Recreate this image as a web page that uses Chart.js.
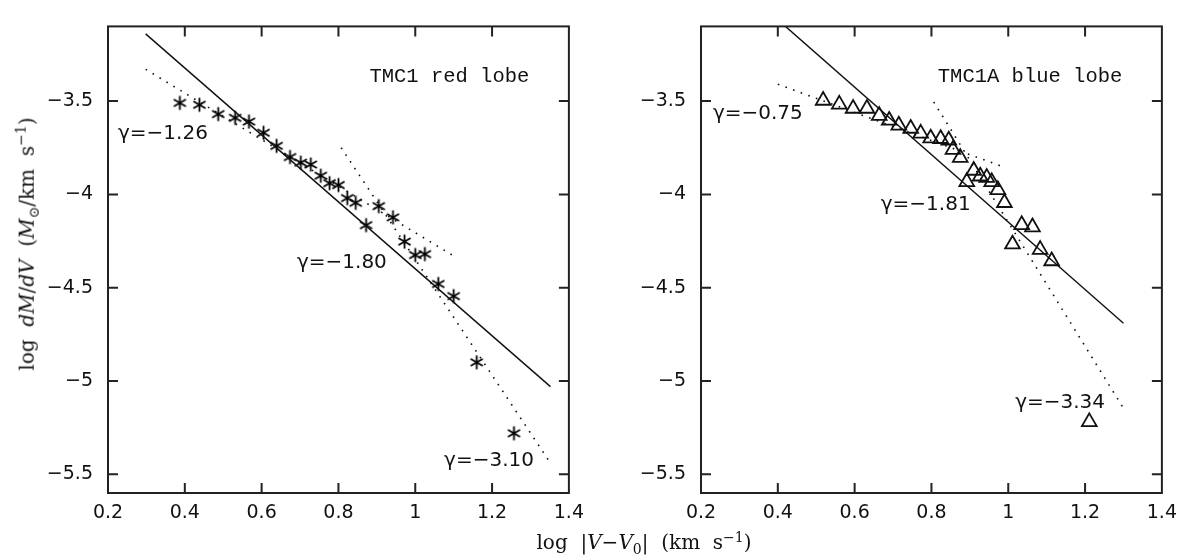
<!DOCTYPE html>
<html>
<head>
<meta charset="utf-8">
<script src="https://cdn.jsdelivr.net/npm/chart.js@4.4.0/dist/chart.umd.min.js"></script>
<style>
    body { margin: 0; background: #fff; width: 1186px; height: 560px; position: relative; overflow: hidden; }
    canvas { position: absolute; top: 0; }
    #leftChart { left: 0; }
    #rightChart { left: 593px; }
    .axisTitle { position: absolute; font-family: "DejaVu Serif", serif; font-size: 20px; color: #111; white-space: nowrap; line-height: 1; }
    .axisTitle sup, .axisTitle sub { font-size: 14px; }
    #yTitle { left: 27px; top: 244px; transform: translate(-50%, -50%) rotate(-90deg); }
    #xTitle { left: 644px; top: 543px; transform: translate(-50%, -50%); }
</style>
</head>
<body>
<canvas id="leftChart" width="593" height="560"></canvas>
<canvas id="rightChart" width="593" height="560"></canvas>
<div class="axisTitle" id="yTitle">log&nbsp; <i>dM</i>/<i>dV</i>&nbsp; (<i>M</i><sub>⊙</sub>/km&nbsp; s<sup>−1</sup>)</div>
<div class="axisTitle" id="xTitle">log&nbsp; |<i>V</i>−<i>V</i><sub>0</sub>|&nbsp; (km&nbsp; s<sup>−1</sup>)</div>
<script>
// ---------------------------------------------
// DATA
// ---------------------------------------------
const xTicks = [0.2, 0.4, 0.6, 0.8, 1.0, 1.2, 1.4];
const yTicks = [-5.5, -5, -4.5, -4, -3.5];

// TMC1 red lobe
const redX = [0.387, 0.438, 0.487, 0.531, 0.567, 0.605, 0.639, 0.674, 0.702, 0.728, 0.754, 0.777, 0.800,
              0.823, 0.845, 0.872, 0.905, 0.942, 0.972, 1.000, 1.025, 1.060, 1.100, 1.160, 1.257];
const redY = [-3.51, -3.52, -3.57, -3.59, -3.61, -3.67, -3.74, -3.80, -3.83, -3.84, -3.90, -3.94, -3.95,
              -4.02, -4.045, -4.165, -4.063, -4.123, -4.253, -4.325, -4.32, -4.48, -4.545, -4.90, -5.28];
const redFitX = [0.298, 1.352];
const redFitY = [-3.14, -5.03];
const redLowX = [0.298, 1.10];   // gamma = -1.26
const redLowY = [-3.33, -4.33];
const redHighX = [0.807, 1.352]; // gamma = -3.10
const redHighY = [-3.75, -5.44];

// TMC1A blue lobe
const blueX = [0.518, 0.560, 0.596, 0.632, 0.664, 0.690, 0.715, 0.746, 0.772, 0.798, 0.824, 0.845,
               0.856, 0.875, 0.892, 0.910, 0.927, 0.944, 0.957, 0.973, 0.990, 1.011, 1.035, 1.063,
               1.083, 1.113, 1.211];
const blueY = [-3.497, -3.518, -3.54, -3.54, -3.578, -3.604, -3.63, -3.647, -3.673, -3.699, -3.702, -3.71,
               -3.76, -3.803, -3.933, -3.872, -3.903, -3.91, -3.933, -3.976, -4.045, -4.267, -4.163, -4.175,
               -4.296, -4.357, -5.219];
const blueFitX = [0.42, 1.30];
const blueFitY = [-3.10, -4.69];
const blueLowX = [0.40, 0.99];   // gamma = -0.75
const blueLowY = [-3.41, -3.855];
const blueHighX = [0.806, 1.297]; // gamma = -3.34
const blueHighY = [-3.505, -5.136];

// Annotations
const redGammaText = ["γ=−1.26", "γ=−1.80", "γ=−3.10"];
const redGammaX = [0.226, 0.692, 1.075];
const redGammaY = [-3.673, -4.366, -5.426];
const blueGammaText = ["γ=−0.75", "γ=−1.81", "γ=−3.34"];
const blueGammaX = [0.231, 0.668, 1.018];
const blueGammaY = [-3.57, -4.054, -5.118];

// ---------------------------------------------
// HELPERS
// ---------------------------------------------
const INK = "#111";

function toPoints(xs, ys) {
    return xs.map((x, i) => ({ x: x, y: ys[i] }));
}

// six-armed asterisk marker
function makeAsterisk() {
    const c = document.createElement("canvas");
    c.width = 17; c.height = 17;
    const g = c.getContext("2d");
    const cx = 8.5, cy = 8.5, r = 7;
    g.strokeStyle = "#000";
    g.lineWidth = 1.8;
    g.beginPath();
    for (const deg of [90, 30, -30]) {
        const a = deg * Math.PI / 180;
        g.moveTo(cx - r * Math.cos(a), cy - r * Math.sin(a));
        g.lineTo(cx + r * Math.cos(a), cy + r * Math.sin(a));
    }
    g.stroke();
    return c;
}

function lineSet(xs, ys, dotted) {
    return {
        data: toPoints(xs, ys),
        showLine: true,
        pointRadius: 0,
        borderColor: INK,
        borderWidth: dotted ? 1.6 : 1.4,
        borderDash: dotted ? [1.6, 6.5] : [],
        fill: false
    };
}

// frame with inward ticks on all four sides + text labels
const frameAndLabels = {
    id: "frameAndLabels",
    afterDatasetsDraw(chart, args, opts) {
        const { ctx, chartArea: a, scales: { x, y } } = chart;
        ctx.save();
        ctx.strokeStyle = "#222";
        ctx.lineWidth = 2;
        ctx.strokeRect(a.left, a.top, a.right - a.left, a.bottom - a.top);

        const len = 10;
        ctx.beginPath();
        xTicks.forEach(v => {
            const px = x.getPixelForValue(v);
            if (px <= a.left + 1 || px >= a.right - 1) return;
            ctx.moveTo(px, a.bottom); ctx.lineTo(px, a.bottom - len);
            ctx.moveTo(px, a.top); ctx.lineTo(px, a.top + len);
        });
        yTicks.forEach(v => {
            const py = y.getPixelForValue(v);
            ctx.moveTo(a.left, py); ctx.lineTo(a.left + len, py);
            ctx.moveTo(a.right, py); ctx.lineTo(a.right - len, py);
        });
        ctx.stroke();

        ctx.fillStyle = INK;
        ctx.textBaseline = "middle";
        ctx.font = '20px "DejaVu Sans"';
        ctx.textAlign = "left";
        opts.gammaText.forEach((t, i) => {
            ctx.fillText(t, x.getPixelForValue(opts.gammaX[i]), y.getPixelForValue(opts.gammaY[i]));
        });

        ctx.font = '20.5px "Liberation Mono"';
        ctx.textAlign = "right";
        ctx.fillText(opts.title, x.getPixelForValue(1.297), y.getPixelForValue(-3.37));
        ctx.restore();
    }
};

function buildChart(canvasId, pts, marker, fit, low, high, labels) {
    const markerSet = {
        data: pts,
        showLine: false,
        pointStyle: marker.style,
        pointRadius: marker.radius,
        pointBorderColor: INK,
        pointBorderWidth: marker.width,
        pointBackgroundColor: "rgba(0,0,0,0)"
    };

    return new Chart(document.getElementById(canvasId).getContext("2d"), {
        type: "scatter",
        data: {
            datasets: [lineSet(fit[0], fit[1], false), lineSet(low[0], low[1], true),
                       lineSet(high[0], high[1], true), markerSet]
        },
        options: {
            responsive: false,
            animation: false,
            devicePixelRatio: 1,
            layout: { padding: { top: 11, right: 22, left: 0, bottom: 0 } },
            plugins: {
                legend: { display: false },
                tooltip: { enabled: false },
                frameAndLabels: labels
            },
            scales: {
                x: {
                    type: "linear",
                    min: 0.2,
                    max: 1.4,
                    grid: { display: false, drawTicks: false },
                    border: { display: false },
                    afterFit: s => { s.height = 67; },
                    afterBuildTicks: s => { s.ticks = xTicks.map(v => ({ value: v })); },
                    ticks: {
                        padding: 9,
                        color: INK,
                        font: { family: "DejaVu Sans", size: 19 },
                        maxRotation: 0,
                        callback: v => String(Number(v.toFixed(1)))
                    }
                },
                y: {
                    type: "linear",
                    min: -5.6,
                    max: -3.1,
                    grid: { display: false, drawTicks: false },
                    border: { display: false },
                    afterFit: s => { s.width = 108; },
                    afterBuildTicks: s => { s.ticks = yTicks.map(v => ({ value: v })); },
                    ticks: {
                        padding: 15,
                        color: INK,
                        font: { family: "DejaVu Sans", size: 19 },
                        callback: v => String(v).replace("-", "\u2212")
                    }
                }
            }
        },
        plugins: [frameAndLabels]
    });
}

// ---------------------------------------------
// DOM READY
// ---------------------------------------------
document.addEventListener("DOMContentLoaded", () => {
    buildChart("leftChart", toPoints(redX, redY),
        { style: makeAsterisk(), radius: 7, width: 1.5 },
        [redFitX, redFitY], [redLowX, redLowY], [redHighX, redHighY],
        { title: "TMC1 red lobe", gammaText: redGammaText, gammaX: redGammaX, gammaY: redGammaY });

    buildChart("rightChart", toPoints(blueX, blueY),
        { style: "triangle", radius: 8.5, width: 1.8 },
        [blueFitX, blueFitY], [blueLowX, blueLowY], [blueHighX, blueHighY],
        { title: "TMC1A blue lobe", gammaText: blueGammaText, gammaX: blueGammaX, gammaY: blueGammaY });
});
</script>
</body>
</html>
